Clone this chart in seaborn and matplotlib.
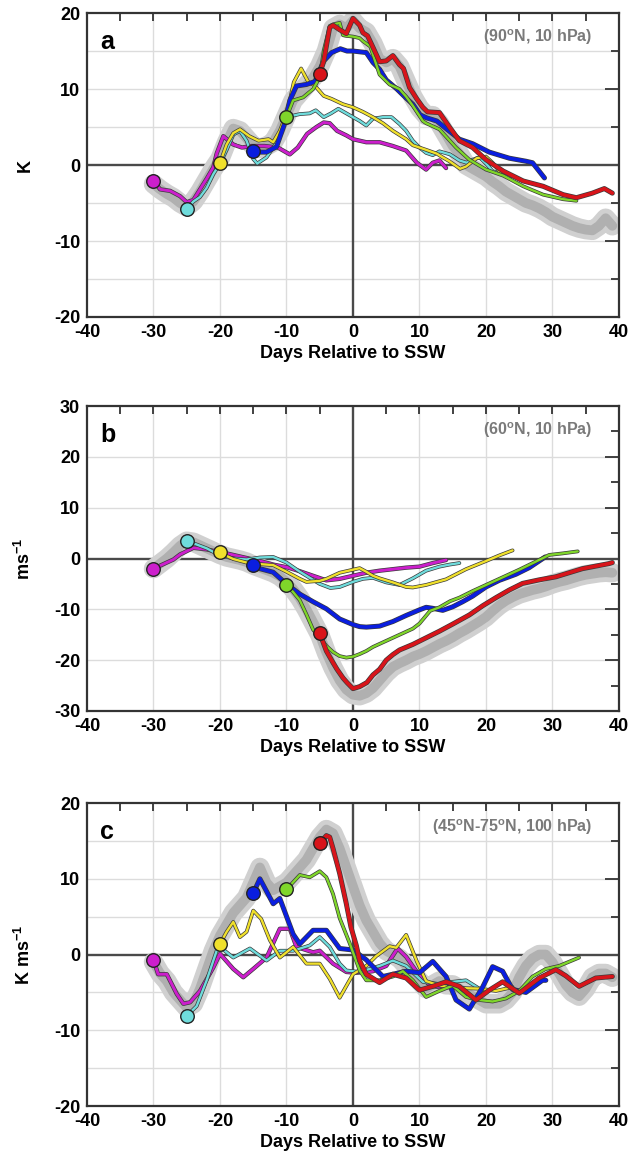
import matplotlib
matplotlib.use("Agg")
import matplotlib.pyplot as plt
import matplotlib.patheffects as pe
from matplotlib.ticker import MultipleLocator
import seaborn as sns

sns.set_style("white")
plt.rcParams["font.family"] = ["Liberation Sans", "DejaVu Sans"]
plt.rcParams["font.weight"] = "bold"
plt.rcParams["text.color"] = "black"
plt.rcParams["axes.labelcolor"] = "black"
plt.rcParams["xtick.color"] = "black"
plt.rcParams["ytick.color"] = "black"
plt.rcParams["axes.unicode_minus"] = False
plt.rcParams["mathtext.fontset"] = "custom"
plt.rcParams["mathtext.rm"] = "Liberation Sans:bold"
plt.rcParams["mathtext.it"] = "Liberation Sans:bold"
plt.rcParams["mathtext.bf"] = "Liberation Sans:bold"

# ---------------- data ----------------
GRAY_DAYS = list(range(-30, 40))

# panel a: temperature, 90N 10 hPa (K)
A_MAG_X = [-30, -29, -27.5, -26, -25, -24, -23, -22, -21, -20.5, -19.5, -18, -16.7, -15.3, -13.3, -11.3, -9.5, -8.3,
           -6.9, -5.5, -4.4, -3.5, -2.4, -1, 0, 2, 4, 6, 8, 9.6, 11, 12, 13, 14]
A_MAG_Y = [-2.1, -3.2, -3.4, -4.1, -4.9, -4.6, -3.2, -1.8, -0.3, 1.5, 3.8, 2.7, 2.3, 2.5, 2.5, 2.3, 1.4, 2.3,
           4.1, 5.0, 5.6, 5.5, 4.5, 3.9, 3.4, 3.0, 3.0, 2.5, 1.9, 0.3, -0.6, 0.3, 0.6, -0.4]
A_CYA_X = [-25, -24, -23, -22, -21, -20, -19, -18, -17, -16, -15, -14.4, -13, -11.6, -10, -9, -8, -6.5, -5.6, -4.4,
           -3.3, -2.2, -1, 0, 1, 2, 3, 4.5, 5.8, 7, 8, 9, 10, 11, 12, 13, 14.6, 16, 17.1, 18, 19, 20, 21, 22.5, 24]
A_CYA_Y = [-5.8, -4.8, -4.2, -3.0, -1.2, 0.2, 2.0, 4.0, 4.5, 3.2, 0.8, 0.2, 1.0, 2.8, 6.3, 6.5, 6.7, 6.8, 7.2, 6.3,
           6.8, 7.4, 6.8, 6.3, 5.8, 5.2, 6.1, 6.3, 6.3, 5.4, 4.5, 3.2, 2.3, 1.6, 1.3, 1.8, 1.4, 0.6, 0.3, 0.7, 1.0,
           0.2, -0.8, -1.2, -1.5]
A_YEL_X = [-20, -19, -18, -17, -15.6, -14.2, -12.7, -12, -11, -10.2, -9.5, -8.9, -7.8, -6.7, -5.8, -4.4, -3.2, -1.5,
           0, 1.5, 3, 4.5, 6, 8, 9, 10, 11, 12.6, 13.5, 14.5, 16.1, 17, 18.6, 20, 21, 22, 23.5]
A_YEL_Y = [0.3, 2.7, 4.2, 4.7, 3.8, 3.2, 3.4, 3.0, 4.5, 6.3, 8.5, 10.9, 12.7, 10.9, 10.5, 9.1, 8.7, 8.0,
           7.6, 7.0, 6.3, 5.5, 4.5, 3.4, 2.6, 2.3, 2.0, 1.5, 1.0, 0.5, -0.5, -0.2, 0.9, 1.1, 0.3, -0.8, -1.2]
A_BLU_X = [-15, -14, -13, -11.5, -10.3, -9.5, -8.5, -7, -5.7, -4.4, -3.2, -1.9, -0.9, 0, 1, 2, 3, 4, 5, 6.6, 8, 9,
           10.1, 11.1, 12.6, 14, 16, 18, 20.5, 23.5, 26, 27, 28.8]
A_BLU_Y = [1.8, 1.7, 1.7, 2.4, 5.4, 8.5, 10.4, 10.6, 11.0, 13.7, 14.8, 15.3, 15.0, 15.0, 14.9, 14.8, 13.5, 12.6, 11.2,
           10.0, 8.8, 8.0, 6.6, 6.2, 5.8, 4.8, 3.4, 2.8, 1.7, 0.9, 0.5, 0.3, -1.7]
A_GRN_X = [-10, -9, -7.5, -6, -5, -4.4, -3.5, -3, -2, -1.5, -1, 0, 1, 1.5, 2.6, 4, 5.5, 7, 8, 9, 10.5, 11, 13, 15.5,
           17.5, 20, 22.6, 25.6, 28.6, 31.6, 33.6]
A_GRN_Y = [6.3, 8.5, 8.9, 10.0, 11.5, 15.0, 18.3, 18.5, 18.7, 17.1, 17.0, 16.9, 16.7, 16.3, 15.6, 11.9, 10.6, 10.0,
           9.0, 7.8, 5.8, 5.5, 4.7, 2.3, 0.7, -0.6, -1.4, -2.8, -3.9, -4.5, -4.7]
A_RED_X = [-5, -4.4, -3.5, -3, -2, -1, 0, 1, 1.5, 2.2, 3, 4, 5, 6, 7, 7.6, 8.5, 9.6, 10.5, 11.2, 13, 14.5, 16, 18,
           20, 22.6, 25.6, 28.6, 31.6, 33.6, 36, 37.8, 39]
A_RED_Y = [12.0, 13.7, 18.1, 18.4, 17.8, 17.3, 19.3, 18.4, 17.4, 17.0, 15.5, 13.6, 13.7, 14.4, 13.2, 12.7, 10.2, 8.7,
           7.6, 7.0, 6.9, 5.0, 3.2, 2.3, 0.7, -0.8, -2.1, -2.8, -3.9, -4.3, -3.7, -3.1, -3.7]
A_GRAY = [-2.5, -3.2, -3.8, -4.3, -5.0, -5.5, -4.8, -3.5, -2.0, -0.5, 0.8, 3.0, 4.8, 4.5, 3.5, 2.5, 2.2, 2.5, 3.0,
          4.5, 6.5, 8.5, 9.5, 10.5, 11.5, 13.0, 15.0, 18.0, 18.5, 18.0, 19.0, 18.0, 17.5, 16.0, 14.0, 13.5, 14.0,
          13.0, 11.0, 9.0, 7.5, 6.5, 6.5, 5.5, 4.0, 2.5, 1.5, 0.0, -0.5, -1.0, -1.5, -2.2, -2.8, -3.5, -4.0, -4.5,
          -5.0, -5.3, -5.7, -6.2, -6.8, -7.2, -7.6, -8.0, -8.3, -8.5, -8.6, -8.0, -7.0, -8.0]

# panel b: zonal wind, 60N 10 hPa (m/s)
B_MAG_X = [-30, -29, -27, -26, -24, -22, -20, -19, -17, -14, -12, -10, -8, -6, -4, -2, 0, 2, 4, 6, 8, 10, 12, 14]
B_MAG_Y = [-2.1, -1.4, -0.2, 0.8, 2.1, 1.8, 1.2, 1.0, 0.4, -0.5, -1.2, -1.7, -2.5, -3.4, -4.3, -4.0, -3.4, -2.8,
           -2.4, -2.1, -1.8, -1.6, -0.9, -0.3]
B_CYA_X = [-25, -24, -22, -20, -18, -16, -14, -12, -10, -8, -6, -5, -3.4, -2, 0, 1.5, 3, 5, 7, 9, 11, 13, 14.5, 16]
B_CYA_Y = [3.4, 3.0, 2.0, 0.6, 0.0, -0.2, 0.2, 0.3, -0.8, -2.6, -4.2, -5.0, -5.8, -5.6, -4.6, -4.0, -3.8, -4.7,
           -5.2, -3.9, -2.4, -1.6, -1.2, -0.9]
B_YEL_X = [-20, -19, -18, -16, -14, -12, -10, -8, -7, -5, -4, -2, 0, 1, 2, 3, 4, 6, 8, 9, 11, 14, 17, 20, 22, 24]
B_YEL_Y = [1.3, 0.5, -0.1, -0.8, -1.1, -1.3, -2.6, -4.0, -4.6, -4.4, -4.0, -2.8, -2.2, -1.9, -2.6, -3.4, -3.9,
           -4.7, -5.6, -5.7, -5.2, -4.1, -2.1, -0.5, 0.6, 1.6]
B_BLU_X = [-15, -14, -12, -10, -8, -6, -4, -2, 0, 1, 2, 4, 6, 8, 10, 11, 12, 13.5, 15, 16.5, 18, 20, 22, 24.5,
           26.5, 28.9]
B_BLU_Y = [-1.3, -2.0, -2.7, -5.0, -7.0, -8.5, -9.9, -11.9, -13.0, -13.4, -13.5, -13.3, -12.4, -11.2, -10.1, -9.6,
           -9.8, -10.2, -9.5, -8.5, -7.4, -5.6, -4.3, -3.1, -1.8, 0.3]
B_GRN_X = [-10, -9, -8, -7, -6, -5, -4, -3, -2, -1, 0, 1, 2, 3, 5, 7, 9, 10, 11.6, 13, 14.6, 16, 18, 20, 22, 25,
           27.5, 29.5, 31.5, 33.8]
B_GRN_Y = [-5.3, -6.6, -8.2, -11.0, -14.0, -15.5, -17.2, -18.4, -19.2, -19.5, -19.3, -18.8, -18.2, -17.4, -16.2,
           -15.0, -13.8, -12.8, -10.3, -9.6, -8.4, -7.7, -6.4, -5.2, -4.0, -2.2, -0.6, 0.7, 1.0, 1.4]
B_RED_X = [-5, -4, -3, -2.4, -1.5, -0.9, 0, 1, 2.1, 3, 4, 5, 6, 7, 9, 11, 13, 15, 17.5, 19.5, 21.5, 23.5, 25.5, 28,
           30.5, 32.5, 34.5, 36.5, 38.5, 39]
B_RED_Y = [-14.7, -18.2, -20.5, -21.8, -23.5, -24.4, -25.6, -25.2, -24.4, -22.9, -21.8, -20.0, -18.9, -18.0, -16.9,
           -15.6, -14.3, -12.9, -11.1, -9.3, -7.7, -6.2, -4.9, -4.2, -3.6, -2.8, -2.0, -1.5, -1.0, -0.8]
B_GRAY = [-2.0, -1.0, 0.0, 1.2, 2.5, 3.4, 3.2, 2.6, 2.0, 1.4, 0.8, 0.3, 0.0, -0.3, -0.7, -1.3, -1.8, -2.3, -2.8,
          -3.5, -4.6, -6.0, -7.8, -10.0, -12.5, -15.0, -18.5, -21.5, -24.0, -25.8, -26.8, -27.0, -26.5, -25.5,
          -24.0, -22.5, -21.3, -20.6, -20.0, -19.3, -18.8, -18.2, -17.5, -16.8, -16.2, -15.5, -14.7, -14.0, -13.2,
          -12.4, -11.5, -10.3, -9.2, -8.3, -7.6, -7.0, -6.6, -6.2, -5.9, -5.5, -5.0, -4.6, -4.3, -3.9, -3.5, -3.2,
          -3.0, -2.8, -2.7, -2.8]

# panel c: heat flux, 45N-75N 100 hPa (K m/s)
C_MAG_X = [-30, -29.3, -28, -26.5, -25.5, -24.5, -23, -21, -20, -18, -16.5, -15, -13, -11, -9.5, -8.5, -6, -5, -3,
           -1, 0.5, 2, 3, 5, 6.7, 8, 9.6, 11.6, 13, 14]
C_MAG_Y = [-0.7, -2.6, -2.6, -5.2, -6.5, -6.3, -4.8, -1.7, 0.1, -1.9, -3.0, -1.9, -0.4, 3.4, 3.4, 1.0, 0.3, 0.5,
           -1.2, -2.3, -2.4, -2.3, -2.2, -1.5, 0.8, -0.3, -2.3, -4.1, -4.3, -4.0]
C_CYA_X = [-25, -23.5, -22, -20.5, -20, -18, -15.5, -13, -11, -9, -6.5, -5, -3.5, -2, -1, 1, 4, 6, 8, 10.5, 13, 15,
           17, 19, 20]
C_CYA_Y = [-8.1, -6.8, -3.4, 0.5, 1.0, -0.4, 0.8, -0.8, 0.5, 0.5, 1.2, 2.3, 1.0, -1.2, -2.1, -2.3, -1.5, -0.8,
           -1.5, -3.6, -3.9, -3.6, -3.4, -4.5, -4.8]
C_YEL_X = [-20, -19, -18, -17, -16, -15, -13.8, -12.5, -11, -9, -7, -5, -3.5, -2, 0, 2, 3.5, 5.5, 6.5, 8, 9.6, 11,
           13, 15.5, 19, 21.5, 23, 24]
C_YEL_Y = [1.4, 3.0, 4.3, 2.3, 3.0, 5.8, 4.7, 1.9, -0.4, 1.0, -1.2, -1.2, -3.2, -5.7, -2.6, -1.5, -0.2, 1.1, 0.9,
           2.6, -0.9, -3.5, -4.1, -4.4, -4.5, -4.8, -4.5, -4.3]
C_BLU_X = [-15, -14, -12, -11, -9, -8, -6, -4, -2, 0, 2, 4.5, 8, 10, 12, 14, 15.5, 17.5, 19.5, 21, 22.5, 24, 26,
           28.5, 29]
C_BLU_Y = [8.1, 10.0, 6.7, 7.4, 2.7, 1.4, 3.2, 3.2, 0.8, 0.6, -0.7, -2.9, -2.2, -2.4, -0.9, -2.9, -6.0, -7.2, -4.3,
           -1.6, -2.2, -4.6, -5.0, -3.4, -3.4]
C_GRN_X = [-10, -8, -6.5, -5, -4, -3, -2, -0.5, 1, 2, 4, 6, 7.5, 9, 11, 13, 15, 17, 19, 21, 23, 25, 27, 29, 31, 34]
C_GRN_Y = [8.6, 10.5, 10.2, 11.0, 10.2, 8.0, 4.8, 1.5, -2.1, -3.4, -3.4, -2.9, -2.2, -3.4, -5.6, -4.8, -4.1, -5.6,
           -6.0, -6.2, -5.8, -4.8, -2.9, -1.9, -1.5, -0.4]
C_RED_X = [-5, -4, -3.5, -3, -2, -1, -0.3, 0.5, 1, 2, 4, 6, 8, 10, 12, 14, 16, 18.5, 20.5, 22.5, 25, 28, 30.5, 32,
           34, 36.5, 39]
C_RED_Y = [14.7, 15.7, 15.5, 14.0, 10.7, 6.7, 3.6, 1.2, -0.8, -2.6, -3.7, -2.6, -3.1, -4.7, -4.2, -3.6, -4.2, -6.0,
           -4.7, -3.6, -5.1, -3.1, -2.0, -2.8, -4.2, -3.1, -2.9]
C_GRAY = [-1.0, -2.5, -3.5, -5.0, -6.0, -7.0, -6.5, -4.5, -2.0, 0.5, 2.5, 4.0, 5.5, 6.5, 7.5, 9.5, 11.5, 9.5, 8.5,
          9.0, 9.5, 10.5, 11.5, 12.5, 14.0, 15.5, 16.5, 16.0, 14.0, 11.5, 9.0, 6.5, 4.5, 3.0, 1.5, 0.5, 0.0, -0.5,
          -1.5, -2.5, -3.5, -4.5, -4.0, -3.5, -4.0, -4.0, -4.5, -5.0, -5.5, -6.0, -6.5, -6.5, -6.5, -6.0, -5.0,
          -3.0, -1.5, -0.5, 0.0, 0.0, -1.0, -2.5, -4.0, -5.0, -5.5, -4.5, -3.0, -2.5, -2.5, -3.0]

COLORS = ["#cc1fcc", "#6fdcdc", "#f0e02c", "#0a1ee0", "#7fd62a", "#d8141a"]
WIDTHS = [2.1, 1.7, 1.7, 2.6, 1.7, 2.6]

panels = [
    dict(letter="a", ylab="K", note="(90$^{o}$N, 10 hPa)", ylim=(-20, 20), ygrid=5,
         xs=[A_MAG_X, A_CYA_X, A_YEL_X, A_BLU_X, A_GRN_X, A_RED_X],
         ys=[A_MAG_Y, A_CYA_Y, A_YEL_Y, A_BLU_Y, A_GRN_Y, A_RED_Y], gray=A_GRAY,
         pos=[0.1372, 0.7279, 0.8391, 0.2609]),
    dict(letter="b", ylab="ms$^{-1}$", note="(60$^{o}$N, 10 hPa)", ylim=(-30, 30), ygrid=10,
         xs=[B_MAG_X, B_CYA_X, B_YEL_X, B_BLU_X, B_GRN_X, B_RED_X],
         ys=[B_MAG_Y, B_CYA_Y, B_YEL_Y, B_BLU_Y, B_GRN_Y, B_RED_Y], gray=B_GRAY,
         pos=[0.1372, 0.3897, 0.8391, 0.2618]),
    dict(letter="c", ylab="K ms$^{-1}$", note="(45$^{o}$N-75$^{o}$N, 100 hPa)", ylim=(-20, 20), ygrid=5,
         xs=[C_MAG_X, C_CYA_X, C_YEL_X, C_BLU_X, C_GRN_X, C_RED_X],
         ys=[C_MAG_Y, C_CYA_Y, C_YEL_Y, C_BLU_Y, C_GRN_Y, C_RED_Y], gray=C_GRAY,
         pos=[0.1372, 0.0506, 0.8391, 0.2601]),
]

fig = plt.figure(figsize=(6.34, 11.65), dpi=100)

for p in panels:
    ax = fig.add_axes(p["pos"])
    ax.set_xlim(-40, 40)
    ax.set_ylim(*p["ylim"])

    # grid + zero lines
    for gx in [-30, -20, -10, 10, 20, 30]:
        ax.axvline(gx, color="#dcdcdc", lw=1.0, zorder=0)
    lo, hi = p["ylim"]
    gy = lo + p["ygrid"]
    while gy < hi:
        if gy != 0:
            ax.axhline(gy, color="#dcdcdc", lw=1.0, zorder=0)
        gy += p["ygrid"]
    ax.axhline(0, color="#4a4a4a", lw=1.7, zorder=1)
    ax.axvline(0, color="#4a4a4a", lw=1.7, zorder=1)

    # gray composite band
    sns.lineplot(x=GRAY_DAYS, y=p["gray"], ax=ax, color="#d0d0d0", linewidth=14,
                 solid_capstyle="round", solid_joinstyle="round", zorder=2)
    sns.lineplot(x=GRAY_DAYS, y=p["gray"], ax=ax, color="#b0b0b0", linewidth=7,
                 solid_capstyle="round", solid_joinstyle="round", zorder=2.1)

    # coloured experiments
    for i, (xx, yy) in enumerate(zip(p["xs"], p["ys"])):
        lw = WIDTHS[i]
        sns.lineplot(x=xx, y=yy, ax=ax, color=COLORS[i], linewidth=lw, zorder=3 + i * 0.1,
                     path_effects=[pe.Stroke(linewidth=lw + 1.0, foreground="#3a3a3a"), pe.Normal()])
    for i, (xx, yy) in enumerate(zip(p["xs"], p["ys"])):
        sns.scatterplot(x=[xx[0]], y=[yy[0]], ax=ax, color=COLORS[i], s=95,
                        edgecolor="#222222", linewidth=1.0, zorder=5)

    # axes styling
    ax.xaxis.set_major_locator(MultipleLocator(10))
    ax.xaxis.set_minor_locator(MultipleLocator(5))
    ax.yaxis.set_major_locator(MultipleLocator(10))
    ax.yaxis.set_minor_locator(MultipleLocator(5))
    ax.tick_params(which="both", direction="in", top=True, right=True, width=1.3,
                   color="#333333", labelcolor="black", labelsize=13, pad=5)
    ax.tick_params(axis="x", which="both", length=6)
    ax.tick_params(axis="y", which="major", length=10)
    ax.tick_params(axis="y", which="minor", length=6)
    for lab in ax.get_xticklabels() + ax.get_yticklabels():
        lab.set_fontweight("bold")
    for sp in ax.spines.values():
        sp.set_color("#333333")
        sp.set_linewidth(1.6)

    ax.set_xlabel("Days Relative to SSW", fontsize=13, fontweight="bold", labelpad=3, color="black")
    ax.set_ylabel(p["ylab"], fontsize=13, fontweight="bold", color="black")
    ax.yaxis.set_label_coords(-0.100, 0.5)
    ax.text(0.025, 0.905, p["letter"], transform=ax.transAxes, fontsize=18,
            fontweight="bold", va="center", ha="left", zorder=6, color="black")
    ax.text(0.95, 0.92, p["note"], transform=ax.transAxes, fontsize=11.5,
            fontweight="bold", color="#7a7a7a", va="center", ha="right", zorder=6)

fig.savefig("out.png", dpi=100)
